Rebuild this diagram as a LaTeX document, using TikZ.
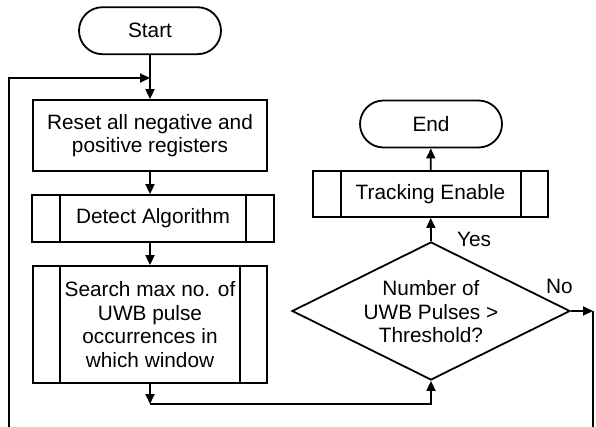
\documentclass[tikz,border=0pt]{standalone}
\usepackage{fontspec}
\setmainfont{Liberation Sans}
\usetikzlibrary{arrows.meta,shapes.geometric}

\tikzset{
  flow/.style={line width=1.8pt},
  arr/.style={flow, -{Triangle[length=10pt,width=9pt]}},
  terminal/.style={draw, line width=1.8pt, rectangle, rounded corners=23.5pt,
    minimum width=142pt, minimum height=47pt, inner sep=0pt},
  process/.style={draw, line width=1.8pt, rectangle, inner sep=0pt, align=center},
  decision/.style={draw, line width=1.8pt, diamond, aspect=2, inner sep=0pt,
    minimum width=278pt, minimum height=138pt},
  txt/.style={font=\fontsize{20.8}{23.5}\selectfont},
  lbl/.style={font=\fontsize{20.8}{23.5}\selectfont, inner sep=0pt}
}

\begin{document}
\begin{tikzpicture}[x=1pt, y=-1pt, txt]
\useasboundingbox (0,0) rectangle (596,427);

% main column
\node[terminal] (start) at (150,30.7) {Start};
\node[process, minimum width=234pt, minimum height=71pt] (reset) at (150,135.5)
  {Reset all negative and\\positive registers};
\node[process, minimum width=242pt, minimum height=47pt] (detect) at (153,218.5)
  {Detect Algorithm};
\node[process, minimum width=234pt, minimum height=117pt] (search) at (150,324.5)
  {Search max no. of\\UWB pulse\\occurrences in\\which window};

% right column
\node[terminal] (end) at (431,124) {End};
\node[process, minimum width=235pt, minimum height=46pt] (track) at (430.5,194)
  {Tracking Enable};
\node[decision] (dec) at (431,311) {};
\node[align=center, inner sep=0pt] (dectext) at (431,312)
  {Number of\\UWB Pulses >\\Threshold?};

% side bars of the predefined processes
\draw[flow] ([xshift=29pt]detect.north west) -- ([xshift=29pt]detect.south west);
\draw[flow] ([xshift=-29pt]detect.north east) -- ([xshift=-29pt]detect.south east);
\draw[flow] ([xshift=28pt]search.north west) -- ([xshift=28pt]search.south west);
\draw[flow] ([xshift=-28pt]search.north east) -- ([xshift=-28pt]search.south east);
\draw[flow] ([xshift=29pt]track.north west) -- ([xshift=29pt]track.south west);
\draw[flow] ([xshift=-28pt]track.north east) -- ([xshift=-28pt]track.south east);

% junction points
\coordinate (loopin) at (150,78);
\coordinate (lbot) at (9,427);
\coordinate (merge) at (150,404);
\coordinate (rtop) at (593,311);
\coordinate (rbot) at (593,427);

% connectors
\draw[arr] (start) -- (reset);
\draw[arr] (lbot) |- (loopin);
\draw[arr] (reset) -- (reset.south |- detect.north);
\draw[arr] (reset.south |- detect.south) -- (search);
\draw[arr] (search) -- (merge);
\draw[arr] (merge) -| (dec.south);
\draw[arr] (dec.north) -- (track);
\draw[arr] (track) -- (end);
\draw[arr] (dec.east) -- (rtop);
\draw[flow] (rtop) -- (rbot);

% branch labels
\node[lbl] (yes) at (474,239) {Yes};
\node[lbl] (no) at (559.5,286) {No};
\end{tikzpicture}
\end{document}
